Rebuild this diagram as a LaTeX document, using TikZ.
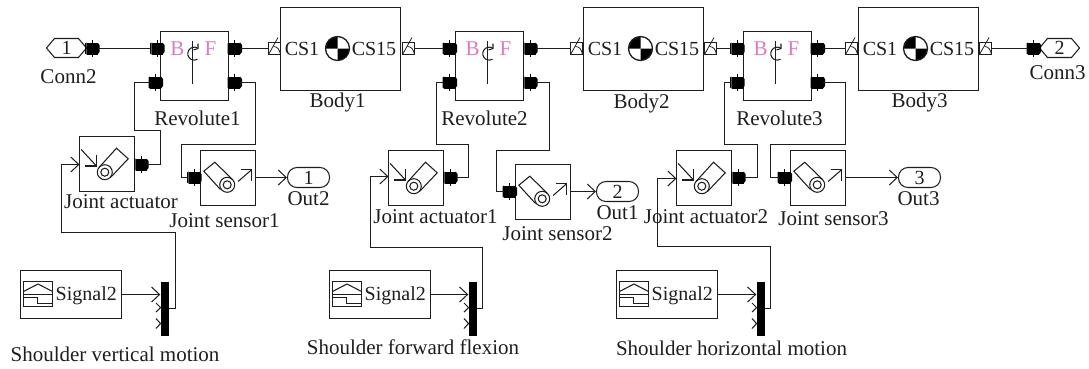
\documentclass[tikz,border=0pt]{standalone}
\usepackage{fontspec}
\setmainfont{Liberation Serif}
\usetikzlibrary{arrows.meta}
\definecolor{pinkish}{HTML}{D77FBE}
\definecolor{ink}{HTML}{1E1E1E}
\tikzset{
 wire/.style={line width=1.05pt,draw=ink,line join=miter},
 arrowed/.style={wire,-{Straight Barb[length=8pt,width=15pt,line width=1pt]}},
 blockbox/.style={draw=ink,line width=1.25pt,fill=white,minimum width=#1,inner sep=0pt},
 labeltext/.style={font=\fontsize{21}{23}\selectfont,text=ink,inner sep=0pt},
 boxtext/.style={font=\fontsize{20}{22}\selectfont,text=ink,inner sep=0pt},
 pinktext/.style={font=\fontsize{21}{23}\selectfont,text=pinkish,inner sep=0pt},
 portshape/.style={fill=black,draw=none,minimum width=11pt,minimum height=12pt,inner sep=0pt},
 connsq/.style={draw=ink,line width=1pt,minimum width=12pt,minimum height=12pt,inner sep=0pt},
 muxbar/.style={fill=black,draw=none,minimum width=8pt,minimum height=54pt,inner sep=0pt},
 portline/.style={line width=0.9pt,draw=black},
}
% port: name, x, y (centre)
\newcommand{\PortAt}[3]{%
 \node[portshape] (#1) at (#2,#3) {};
 \fill[black] (#2+5.5,#3-6) -- (#2+7.5,#3-3.5) -- (#2+7.5,#3+3.5) -- (#2+5.5,#3+6) -- cycle;
 \fill[black] (#2-5.5,#3-6) -- (#2-7,#3-5) -- (#2-7,#3+5) -- (#2-5.5,#3+6) -- cycle;
 \draw[portline] (#2,#3-8.5) -- (#2,#3+8.5);
}
% revolute: prefix, left x
\newcommand{\RevoluteAt}[2]{%
 \node[blockbox=68pt,minimum height=69pt] (#1) at (#2+34,65.5) {};
 \node[pinktext] (#1B) at (#2+17,48) {B};
 \node[pinktext] (#1F) at (#2+50,48) {F};
 \draw[wire] (#2+32,40) -- (#2+32,83.5);
 \draw[wire] (#2+37,47.5) arc[start angle=60,end angle=300,radius=6.5pt];
 \draw[wire] (#2+33,49.5) -- (#2+37.5,48) -- (#2+37.5,43);
}
% body: prefix, left x
\newcommand{\BodyAt}[2]{%
 \node[blockbox=120pt,minimum height=83pt] (#1) at (#2+60,48.5) {};
 \node[boxtext,anchor=center] (#1a) at (#2+21.5,48) {CS1};
 \node[boxtext,anchor=center] (#1b) at (#2+93.5,48) {CS15};
 \fill[white] (#2+57,48) circle[radius=12pt];
 \fill[black] (#2+57,48) -- (#2+57,36) arc[start angle=90,end angle=180,radius=12pt] -- cycle;
 \fill[black] (#2+57,48) -- (#2+57,60) arc[start angle=270,end angle=360,radius=12pt] -- cycle;
 \draw[ink,line width=1.3pt] (#2+57,48) circle[radius=12pt];
}
% connector square: name, x centre
\newcommand{\SquareAt}[2]{%
 \node[connsq] (#1) at (#2,48) {};
 \draw[wire,line width=0.8pt] (#2-6,54) -- (#2+3.5,37);
 \draw[wire,line width=0.8pt] (#2-1,46) .. controls (#2+3,46) and (#2+5,49) .. (#2+6,54);
}
% actuator: name, left x, top y
\newcommand{\ActuatorAt}[3]{%
 \node[blockbox=55pt,minimum height=55pt] (#1) at (#2+27.5,#3+27.5) {};
 \draw[wire] (#2+1.7,#3+13) -- (#2+17,#3+29.5);
 \draw[wire] (#2+17,#3+18) -- (#2+17,#3+29.5) -- (#2+5.5,#3+29.5);
 \draw[wire] (#2+25.3,#3+35.7) circle[radius=7.5pt];
 \draw[wire] (#2+25.3,#3+35.7) circle[radius=4pt];
 \draw[wire] (#2+19.5,#3+31) -- (#2+37,#3+11.7) -- (#2+48.7,#3+22.3) -- (#2+31,#3+41);
}
% sensor: name, left x, top y
\newcommand{\SensorAt}[3]{%
 \node[blockbox=55pt,minimum height=55pt] (#1) at (#2+27.5,#3+27.5) {};
 \draw[wire] (#2+26.7,#3+34.3) circle[radius=7.5pt];
 \draw[wire] (#2+26.7,#3+34.3) circle[radius=4pt];
 \draw[wire] (#2+20,#3+39) -- (#2+3.3,#3+20.7) -- (#2+14.3,#3+11.7) -- (#2+32,#3+29);
 \draw[wire] (#2+37.6,#3+31) -- (#2+51,#3+19.3);
 \draw[wire] (#2+40,#3+19.3) -- (#2+51,#3+19.3) -- (#2+51,#3+30);
}
% signal: name, left x
\newcommand{\SignalAt}[2]{%
 \node[blockbox=101pt,minimum height=48pt] (#1) at (#2+50.5,294) {};
 \draw[wire,line width=1.1pt] (#2+3,281) rectangle (#2+32,306);
 \draw[wire] (#2+3,291) -- (#2+17.5,283.5) -- (#2+32,291);
 \draw[wire] (#2+3,294) -- (#2+32,294);
 \draw[wire] (#2+3,297) -- (#2+17,297) -- (#2+17,303) -- (#2+32,303);
 \node[boxtext,anchor=west] (#1t) at (#2+35,295) {Signal2};
}
% mux: name, left x; chevrons for the two unused inputs
\newcommand{\MuxAt}[2]{%
 \node[muxbar] (#1) at (#2+4,308) {};
 \draw[wire] (#2-4.5,302.5) -- (#2,307) -- (#2-4.5,311.5);
 \draw[wire] (#2-4.5,318) -- (#2,323) -- (#2-4.5,328);
}
% hexagon terminal
\newcommand{\HexL}[3]{%
 \node[inner sep=0pt,font=\fontsize{20}{22}\selectfont,text=ink] (#1) at (#2,47.5) {#3};
 \draw[wire] (#2-20,47.5) -- (#2-12,38) -- (#2+12,38) -- (#2+20,47.5) -- (#2+12,57) -- (#2-12,57) -- cycle;
}
% pill terminal: name, left x, centre y, text
\newcommand{\PillAt}[4]{%
 \node[draw=ink,line width=1.05pt,rounded corners=9.5pt,minimum width=42pt,minimum height=20pt,inner sep=0pt,font=\fontsize{20}{22}\selectfont,text=ink] (#1) at (#2+21,#3) {#4};
}
\begin{document}
\begin{tikzpicture}[x=1pt,y=-1pt]
\useasboundingbox (0,0) rectangle (1089,368);
\begin{scope}[shift={(0.5pt,-0.5pt)}]
% blocks
\RevoluteAt{rvA}{160}
\RevoluteAt{rvB}{455}
\RevoluteAt{rvC}{743}
\BodyAt{bdA}{280}
\BodyAt{bdB}{583}
\BodyAt{bdC}{858}
\SquareAt{sqAl}{274}
\SquareAt{sqAr}{408}
\SquareAt{sqBl}{576}
\SquareAt{sqBr}{710}
\SquareAt{sqCl}{851}
\SquareAt{sqCr}{985}
\ActuatorAt{acA}{79}{136}
\ActuatorAt{acB}{388}{150}
\ActuatorAt{acC}{676}{150}
\SensorAt{snA}{200}{150}
\SensorAt{snB}{515}{164}
\SensorAt{snC}{790}{150}
\SignalAt{sgA}{20}
\SignalAt{sgB}{329}
\SignalAt{sgC}{616}
\MuxAt{mxA}{160}
\MuxAt{mxB}{468}
\MuxAt{mxC}{756}
\HexL{cnL}{66}{1}
\HexL{cnR}{1059}{2}
\PillAt{otA}{287}{177}{1}
\PillAt{otB}{596}{191}{2}
\PillAt{otC}{898}{177}{3}
% actuator input points
\coordinate (inA) at (79,164);
\coordinate (inB) at (388,176);
\coordinate (inC) at (676,178);
% ports
\PortAt{pcL}{91.5}{48}
\PortAt{pcR}{1033}{48}
\PortAt{pAbu}{156.5}{48}
\PortAt{pAbl}{155}{82}
\PortAt{pAfu}{234}{48}
\PortAt{pAfl}{234}{82}
\PortAt{pBbu}{449}{48}
\PortAt{pBbl}{449}{82}
\PortAt{pBfu}{529.5}{48}
\PortAt{pBfl}{529.5}{82}
\PortAt{pCbu}{736.5}{48}
\PortAt{pCbl}{736.5}{82}
\PortAt{pCfu}{817}{48}
\PortAt{pCfl}{817}{82}
\PortAt{paA}{140.5}{164}
\PortAt{paB}{449.5}{177}
\PortAt{paC}{737.5}{177}
\PortAt{psA}{193.5}{177}
\PortAt{psB}{509}{191}
\PortAt{psC}{784}{177}
% connectors
\draw[wire] (pcL) -- (pAbu);
\draw[wire] (pAfu) -- (sqAl);
\draw[wire] (sqAr) -- (pBbu);
\draw[wire] (pBfu) -- (sqBl);
\draw[wire] (sqBr) -- (pCbu);
\draw[wire] (pCfu) -- (sqCl);
\draw[wire] (sqCr) -- (pcR);
\draw[wire] (pAbl) -- (134,82) -- (134,130) -- (160,130) -- (160,164) -- (paA);
\draw[wire] (pAfl) -- (255,82) -- (255,144) -- (181,144) -- (181,177) -- (psA);
\draw[wire] (pBbl) -- (436,82) -- (436,144) -- (468,144) -- (468,177) -- (paB);
\draw[wire] (pBfl) -- (549,82) -- (549,150) -- (496,150) -- (496,191) -- (psB);
\draw[wire] (pCbl) -- (724,82) -- (724,144) -- (757,144) -- (757,177) -- (paC);
\draw[wire] (pCfl) -- (845,82) -- (845,144) -- (770,144) -- (770,177) -- (psC);
\draw[arrowed] (otA.west -| snA.east) -- (otA.west);
\draw[arrowed] (otB.west -| snB.east) -- (otB.west);
\draw[arrowed] (otC.west -| snC.east) -- (otC.west);
\draw[arrowed] (sgA.east) -- (mxA.west |- sgA.east);
\draw[arrowed] (sgB.east) -- (mxB.west |- sgB.east);
\draw[arrowed] (sgC.east) -- (mxC.west |- sgC.east);
\draw[arrowed] (mxA.east) -- (175,308) -- (175,232) -- (61,232) -- (61,164) -- (inA);
\draw[arrowed] (mxB.east) -- (482,308) -- (482,247) -- (370,247) -- (370,176) -- (inB);
\draw[arrowed] (mxC.east) -- (770,308) -- (770,246) -- (657,246) -- (657,178) -- (inC);
% labels
\node[labeltext] (tcL) at (68,76) {Conn2};
\node[labeltext] (tcR) at (1057,72) {Conn3};
\node[labeltext] (trA) at (197,118) {Revolute1};
\node[labeltext] (trB) at (484,118) {Revolute2};
\node[labeltext] (trC) at (779,118) {Revolute3};
\node[labeltext] (tbA) at (337,102) {Body1};
\node[labeltext] (tbB) at (641,103) {Body2};
\node[labeltext] (tbC) at (919,102) {Body3};
\node[labeltext] (taA) at (120.5,201) {Joint actuator};
\node[labeltext] (taB) at (435,216) {Joint actuator1};
\node[labeltext] (taC) at (705.5,216) {Joint actuator2};
\node[labeltext] (tsA) at (224,220) {Joint sensor1};
\node[labeltext] (tsB) at (557,233) {Joint sensor2};
\node[labeltext] (tsC) at (833,218) {Joint sensor3};
\node[labeltext] (toA) at (308,198) {Out2};
\node[labeltext] (toB) at (617,212) {Out1};
\node[labeltext] (toC) at (918,198) {Out3};
\node[labeltext] (tmA) at (114.5,354) {Shoulder vertical motion};
\node[labeltext] (tmB) at (412.5,347) {Shoulder forward flexion};
\node[labeltext] (tmC) at (731,348) {Shoulder horizontal motion};
\end{scope}
\end{tikzpicture}
\end{document}
